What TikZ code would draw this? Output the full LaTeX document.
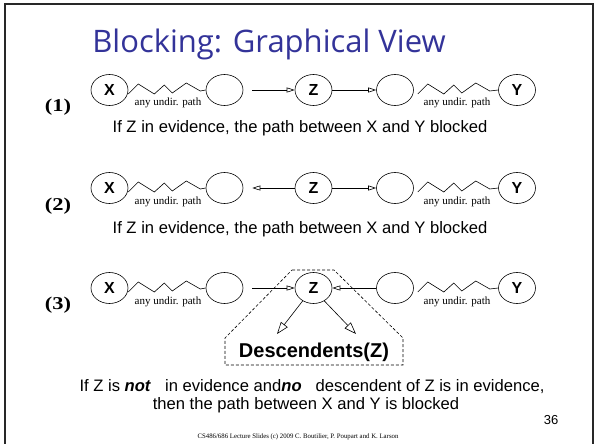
\documentclass[tikz,border=0pt]{standalone}
\usepackage{fontspec}
\setmainfont{Liberation Serif}
\setsansfont{Liberation Sans}
\newfontfamily\titlefont{Open Sans}
\usetikzlibrary{arrows.meta,shapes.geometric,calc}

\definecolor{titleblue}{RGB}{51,51,153}
\definecolor{frame}{RGB}{40,40,40}

\tikzset{
  var/.style={ellipse, draw, line width=0.6pt, minimum width=37pt, minimum height=31pt,
    inner sep=0pt, font=\sffamily\bfseries\fontsize{16}{16}\selectfont},
  edge/.style={line width=0.6pt, -{Triangle[open, length=8pt, width=5pt]}},
  desc/.style={line width=0.6pt, -{Triangle[open, length=12pt, width=8.5pt]}},
  zig/.style={line width=0.6pt, line join=miter},
  pathlabel/.style={font=\rmfamily\fontsize{11}{11}\selectfont, anchor=base},
  rowlabel/.style={font=\rmfamily\bfseries\fontsize{18}{18}\selectfont, anchor=base, xscale=1.25},
  caption/.style={font=\sffamily\fontsize{16.6}{16.6}\selectfont, anchor=base},
}

\begin{document}
\begin{tikzpicture}[x=1pt, y=-1pt]
\useasboundingbox (0,0) rectangle (595,444);
\fill[white] (0,0) rectangle (595,444);

% slide frame (open at the bottom edge)
\draw[frame, line width=2pt] (5,450) -- (5,4) -- (592.5,4) -- (592.5,450);

% title
\node[font=\titlefont\fontsize{31}{31}\selectfont, text=titleblue, anchor=base] (title) at (269,52.5) {Blocking: Graphical View};

% ---------- row (1) ----------
\node[rowlabel] (r1) at (58,111) {(1)};
\node[var] (X1) at (109.5,90) {X};
\node[var] (A1) at (224.5,90) {};
\node[var] (Z1) at (313.5,90) {Z};
\node[var] (B1) at (395,90) {};
\node[var] (Y1) at (517,90) {Y};
\draw[edge, shorten <=9pt] (A1) -- (Z1);
\draw[edge] (Z1) -- (B1);
\draw[zig] (X1.east) ++(0,4) -- ++(10,-10) -- ++(16,10) -- ++(10,-9) -- ++(8,8) -- ++(14,-10) -- ++(14,8) -- (A1.west);
\draw[zig] (B1.east) ++(4,4) -- ++(10,-10) -- ++(16,10) -- ++(10,-9) -- ++(8,8) -- ++(14,-10) -- ++(14,8) -- (Y1.west);
\node[pathlabel] (p1a) at (168,106) {any undir. path};
\node[pathlabel] (p1b) at (457,106) {any undir. path};
\node[caption] (c1) at (300,132) {If Z in evidence, the path between X and Y blocked};

% ---------- row (2) ----------
\node[rowlabel] (r2) at (58,210) {(2)};
\node[var] (X2) at (109.5,188) {X};
\node[var] (A2) at (224.5,188) {};
\node[var] (Z2) at (313.5,188) {Z};
\node[var] (B2) at (395,188) {};
\node[var] (Y2) at (517,188) {Y};
\draw[edge, shorten >=9pt] (Z2) -- (A2);
\draw[edge] (Z2) -- (B2);
\draw[zig] (X2.east) ++(0,4) -- ++(10,-10) -- ++(16,10) -- ++(10,-9) -- ++(8,8) -- ++(14,-10) -- ++(14,8) -- (A2.west);
\draw[zig] (B2.east) ++(4,4) -- ++(10,-10) -- ++(16,10) -- ++(10,-9) -- ++(8,8) -- ++(14,-10) -- ++(14,8) -- (Y2.west);
\node[pathlabel] (p2a) at (168,204) {any undir. path};
\node[pathlabel] (p2b) at (457,204) {any undir. path};
\node[caption] (c2) at (300,233) {If Z in evidence, the path between X and Y blocked};

% ---------- row (3) ----------
\node[rowlabel] (r3) at (58,309) {(3)};
\node[var] (X3) at (109.5,288) {X};
\node[var] (A3) at (224.5,288) {};
\node[var] (Z3) at (313.5,288) {Z};
\node[var] (B3) at (395,288) {};
\node[var] (Y3) at (517,288) {Y};
\draw[edge, shorten <=9pt] (A3) -- (Z3);
\draw[edge] (B3) -- (Z3);
\draw[zig] (X3.east) ++(0,4) -- ++(10,-10) -- ++(16,10) -- ++(10,-9) -- ++(8,8) -- ++(14,-10) -- ++(14,8) -- (A3.west);
\draw[zig] (B3.east) ++(4,4) -- ++(10,-10) -- ++(16,10) -- ++(10,-9) -- ++(8,8) -- ++(14,-10) -- ++(14,8) -- (Y3.west);
\node[pathlabel] (p3a) at (168,304) {any undir. path};
\node[pathlabel] (p3b) at (457,304) {any undir. path};

% descendants of Z
\coordinate (d1) at (277,334);
\coordinate (d2) at (356,334);
\draw[desc] (Z3.230) -- (d1);
\draw[desc] (Z3.310) -- (d2);
\draw[line width=0.6pt, dashed, dash pattern=on 3pt off 2pt]
  (292,270) -- (334,270) -- (403,338) -- (403,365) -- (225,365) -- (225,338) -- cycle;
\node[font=\sffamily\bfseries\fontsize{20}{20}\selectfont] (D) at (314,352) {Descendents(Z)};

\node[caption] (c3a) at (312,391) {If Z is \textbf{\textit{not}}\hspace{14pt}in evidence and\textbf{\textit{no}}\hspace{14pt}descendent of Z is in evidence,};
\node[caption] (c3b) at (306,409) {then the path between X and Y is blocked};

\node[font=\sffamily\fontsize{13}{13}\selectfont, anchor=base] (pg) at (551,424) {36};
\node[font=\rmfamily\fontsize{6.8}{6.8}\selectfont, anchor=base] (foot) at (298,438.5) {CS486/686 Lecture Slides (c) 2009 C. Boutilier, P. Poupart and K. Larson};
\end{tikzpicture}
\end{document}
